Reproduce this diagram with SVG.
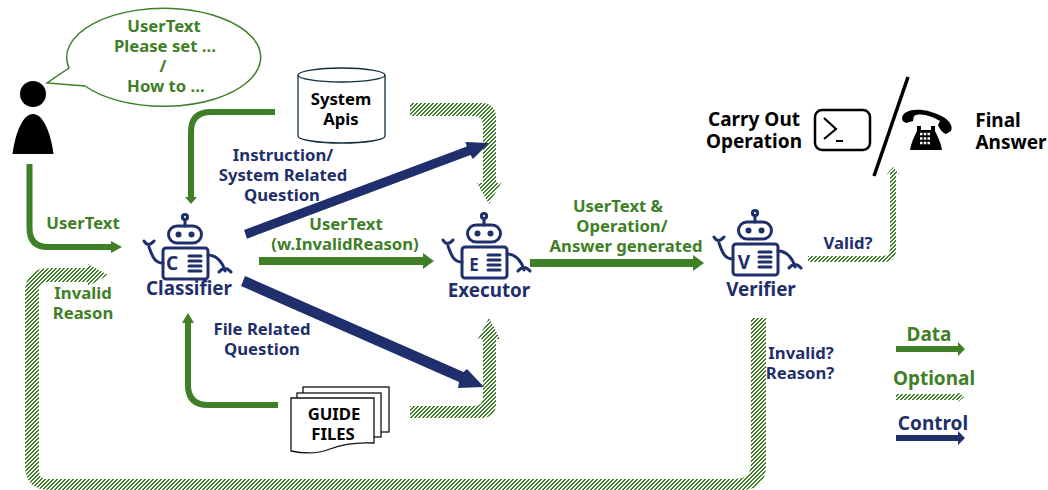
<svg xmlns="http://www.w3.org/2000/svg" width="1048" height="490" viewBox="0 0 1048 490">
<style>
text{font-family:"Noto Sans","Open Sans","Liberation Sans",sans-serif;font-weight:700;font-size:16.7px;text-anchor:middle}
.g{fill:#3f7f27}.n{fill:#1f2f6b}.k{fill:#000}
.nm{font-size:18.8px}
.bg{font-size:19px}
.gs{fill:none;stroke:#3f7f27;stroke-width:6}
.gf{fill:#3f7f27}
.nf{fill:#1f2f6b}
.h{fill:url(#hatch)}
.ln{fill:none;stroke:#1f2f6b;stroke-width:3;stroke-linecap:round;stroke-linejoin:round}
</style>
<defs>
<pattern id="hatch" patternUnits="userSpaceOnUse" width="4" height="4">
<rect width="4" height="4" fill="#fff"/>
<path d="M3 0h1v1h-1zM0 0h1v1h-1zM2 1h2v1h-2zM1 2h2v1h-2zM0 3h2v1h-2z" fill="#3f7f27" shape-rendering="crispEdges"/>
</pattern>
<g id="robot">
<circle cx="0" cy="0" r="2.600" class="ln"/>
<path d="M0 3V9" class="ln"/>
<rect x="-16.500" y="9" width="33" height="17" rx="8.500" class="ln"/>
<circle cx="-6.500" cy="17.500" r="3" class="nf"/>
<circle cx="6.500" cy="17.500" r="3" class="nf"/>
<rect x="-22" y="31" width="45" height="31" rx="3" class="ln"/>
<path d="M-22 46C-31 46-33 38-36 30M-41 24Q-37 31-31 24" class="ln"/>
<path d="M23 38C32 38 38 46 40 54M34 55Q40 48 46 55" class="ln"/>
<path d="M4 39H16M4 44H16M4 49H16M4 54H16" class="ln"/>
</g>
</defs>
<rect width="1048" height="490" fill="#fff"/>

<g id="connectors">
<path class="gs" d="M29.500 164V228Q29.500 247 48 247H112"/>
<path class="gf" d="M111 241L122 247L111 253Z"/>
<path class="gs" d="M275 112H211Q191 112 191 132V198"/>
<path class="gf" d="M185 197H197L191 204Z"/>
<path class="gs" d="M278 405H208Q188 405 188 385V322"/>
<path class="gf" d="M182 323H194L188 313Z"/>
<path d="M259 261H424" fill="none" stroke="#3f7f27" stroke-width="8"/>
<path class="gf" d="M423 253L434 261L423 269Z"/>
<path d="M530 263H694" fill="none" stroke="#3f7f27" stroke-width="8"/>
<path class="gf" d="M693 255L704 263L693 271Z"/>
<path class="h" d="M410 103H481Q496 103 496 118V183H501L489 204L477 183H483V125Q483 116 474 116H410Z"/>
<path class="h" d="M410 406H474Q483 406 483 397V339H478L489 318L500 339H496V403Q496 418 481 418H410Z"/>
<path class="h" d="M808 256H882Q890 256 890 248V174H887L893 167L899 174H896V250Q896 262 884 262H808Z"/>
<path class="h" d="M751 318H766V465Q766 490 741 490H50Q25 490 25 465V293Q25 268 50 268H88V264L108 275L88 286V282H47Q39 282 39 290V471Q39 479 47 479H735Q751 479 751 463Z"/>
<path class="nf" d="M244 230L466.800 146.500L465.500 142L489 143L473 159L470.500 155L247 238.700Z"/>
<path class="nf" d="M245 276L463.500 372L467 369L484 387L458 388L459 382L241 286Z"/>
</g>

<g id="user">
<circle cx="33" cy="94" r="13" fill="#000"/>
<path d="M12.500 154C15 135 22 114 33 114C44 114 51 135 53.500 154Z" fill="#000"/>
</g>
<g id="bubble">
<path d="M69 68A97 49 0 1 1 85 86L47 83Z" fill="#fff" stroke="#3f7f27" stroke-width="1.500"/>
<text class="g" x="164" y="32">UserText</text>
<text class="g" x="165" y="52">Please set …</text>
<text class="g" x="163" y="72">/</text>
<text class="g" x="166" y="92">How to …</text>
</g>
<g id="system-apis">
<path d="M298 75V136C298 140 318 143 341.500 143C365 143 385 140 385 136V75" fill="#fff" stroke="#0f2f3f" stroke-width="1.300"/>
<ellipse cx="341.500" cy="75" rx="43.500" ry="7" fill="#fff" stroke="#0f2f3f" stroke-width="1.300"/>
<text class="k" x="341" y="105">System</text>
<text class="k" x="341" y="125">Apis</text>
</g>
<g id="guide-files">
<rect x="303" y="387" width="86" height="45" fill="#fff" stroke="#111" stroke-width="1.300"/>
<rect x="297" y="393" width="84" height="44" fill="#fff" stroke="#111" stroke-width="1.300"/>
<path d="M291 398H374V443C355 442 340 445 330 449C320 453 305 454 291 451Z" fill="#fff" stroke="#111" stroke-width="1.300"/>
<text class="k" x="334" y="420">GUIDE</text>
<text class="k" x="333" y="440">FILES</text>
</g>
<g id="classifier">
<use href="#robot" x="185" y="217"/>
<text class="n nm" x="172" y="270" style="font-size:19px">C</text>
<text class="n nm" x="189" y="295">Classifier</text>
</g>
<g id="executor">
<use href="#robot" x="484" y="216"/>
<text class="n" x="474" y="271" style="font-size:17px">E</text>
<text class="n nm" x="489" y="297">Executor</text>
</g>
<g id="verifier">
<use href="#robot" x="755" y="213"/>
<text class="n" x="744" y="269" style="font-size:19px">V</text>
<text class="n nm" x="761" y="296">Verifier</text>
</g>
<g id="labels">
<text class="g" x="83" y="229">UserText</text>
<text class="g" x="83" y="299">Invalid</text>
<text class="g" x="83" y="319">Reason</text>
<text class="n" x="283" y="161">Instruction/</text>
<text class="n" x="283" y="181">System Related</text>
<text class="n" x="282" y="201">Question</text>
<text class="g" x="346" y="230">UserText</text>
<text class="g" x="345" y="250">(w.InvalidReason)</text>
<text class="n" x="262" y="335">File Related</text>
<text class="n" x="262" y="355">Question</text>
<text class="g" x="618" y="212">UserText &amp;</text>
<text class="g" x="622" y="232">Operation/</text>
<text class="g" x="626" y="252">Answer generated</text>
<text class="n" x="848" y="249">Valid?</text>
<text class="n" x="801" y="359">Invalid?</text>
<text class="n" x="800" y="379">Reason?</text>
</g>
<g id="outcome">
<text class="k bg" x="754" y="126">Carry Out</text>
<text class="k bg" x="754" y="148">Operation</text>
<rect x="815" y="110" width="55" height="40" rx="7" fill="#fff" stroke="#000" stroke-width="2.500"/>
<path d="M824 118L836 129L824 139M836 141H843" fill="none" stroke="#000" stroke-width="2.200"/>
<path d="M908 77L874 176" stroke="#000" stroke-width="3.500" fill="none"/>
<path d="M902 118C903 108 925 106 945 118C950 122 953 126 951 131L946 134C943 133 940 130 938 125L940 121C930 115 920 113 914 116L913 121L906 123C903 122 902 120 902 118Z" fill="#000"/>
<path d="M917 126H921V130H931V126H935V131C938 137 941 143 942 150H910C911 143 914 137 917 131Z" fill="#000"/>
<path d="M920 134H930M920 138.500H930M920 143H930" stroke="#fff" stroke-width="2.500" stroke-dasharray="2.500 1.250" fill="none"/>
<text class="k bg" x="998" y="127">Final</text>
<text class="k bg" x="1011" y="149">Answer</text>
</g>
<g id="legend">
<text class="g bg" x="929" y="341">Data</text>
<path class="gf" d="M896 346H958V342L965 349L958 356V352H896Z"/>
<text class="g bg" x="934" y="385">Optional</text>
<path class="h" d="M896 394H958V392L964 397L958 402V400H896Z"/>
<text class="n bg" x="933" y="430">Control</text>
<path class="nf" d="M896 435H958V431L965 438L958 445V441H896Z"/>
</g>
</svg>
